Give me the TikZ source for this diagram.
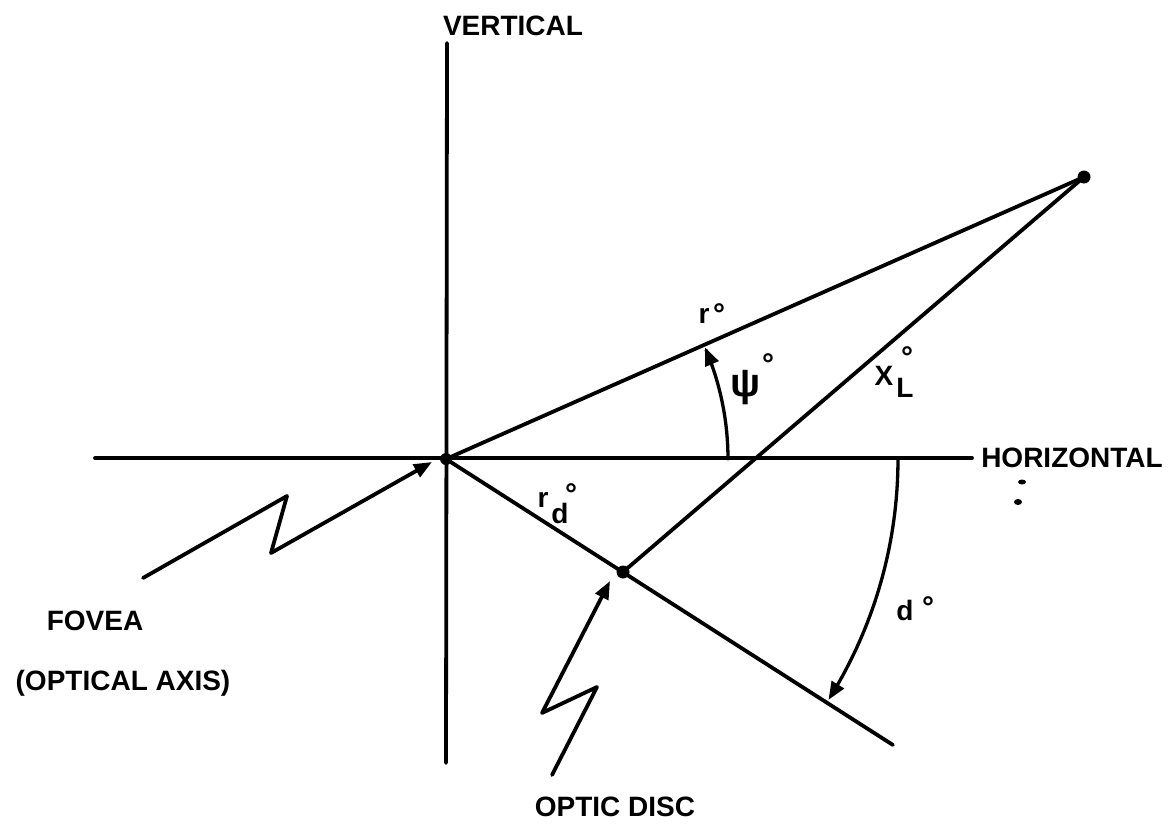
\documentclass[tikz,border=0pt]{standalone}
\usepackage{fontspec}
\setmainfont{Liberation Sans}
\usetikzlibrary{arrows.meta}
\begin{document}
\begin{tikzpicture}[x=1pt,y=-1pt, line cap=round, line join=round,
  ln/.style={line width=3.8pt},
  arcln/.style={line width=3.3pt},
  arr/.style={-{Triangle[length=18pt,width=14pt]}},
  lbl/.style={font=\fontsize{28pt}{30pt}\selectfont\bfseries, inner sep=0pt, anchor=base},
  deg/.style={font=\fontsize{30pt}{30pt}\selectfont\bfseries, inner sep=0pt, anchor=base},
  dot/.style={circle, fill, inner sep=0pt, minimum size=#1}]
\useasboundingbox (0,0) rectangle (1171,825);
% axes
\coordinate (vt) at (447,43);
\coordinate (vb) at (446,763);
\coordinate (hl) at (95,458);
\coordinate (hr) at (972,458);
\node[dot=12pt] (O) at (446,459) {};
\node[dot=13pt] (D) at (623,572) {};
\node[dot=13pt] (P) at (1084,177) {};
\coordinate (E) at (893,745);
\draw[ln] (vt) -- (vb);
\draw[ln] (hl) -- (hr);
\draw[ln] (O.center) -- (P.center);
\draw[ln] (O.center) -- (E);
\draw[ln] (D.center) -- (P.center);
% fovea zigzag arrow
\coordinate (f0) at (143,578);
\coordinate (f1) at (287,496);
\coordinate (f2) at (271,553);
\coordinate (f3) at (432,462);
\draw[ln,arr] (f0) -- (f1) -- (f2) -- (f3);
% optic disc zigzag arrow
\coordinate (o0) at (552,775);
\coordinate (o1) at (597,687);
\coordinate (o2) at (542,713);
\coordinate (o3) at (610,581);
\draw[ln,arr] (o0) -- (o1) -- (o2) -- (o3);
% angle arcs
\draw[arcln,arr] plot[domain=0:23.3, samples=40] ({446+282*cos(\x)},{459-282*sin(\x)});
\draw[arcln,arr] plot[domain=0:32.2, samples=50] ({446+452*cos(\x)},{459+452*sin(\x)});
% labels
\node[lbl] (tv) at (513,35) {VERTICAL};
\node[lbl] (th) at (1072,467) {HORIZONTAL};
\node[lbl] (tf) at (95,630) {FOVEA};
\node[lbl] (ta) at (123,690) {(OPTICAL AXIS)};
\node[lbl] (to) at (615,816) {OPTIC DISC};
% math labels
\node[lbl] (r) at (704,323) {r};
\node[deg] (rdeg) at (719,324) {°};
\node[font=\fontsize{40pt}{40pt}\selectfont\bfseries, inner sep=0pt] (psi) at (746,388) {ψ};
\node[deg] (psideg) at (768,374) {°};
\node[lbl] (X) at (884,385) {X};
\node[lbl] (XL) at (905,397) {L};
\node[deg] (Xdeg) at (907,367) {°};
\node[lbl] (rd) at (543,507) {r};
\node[lbl] (rdd) at (560,523) {d};
\node[deg] (rddeg) at (571,504) {°};
\node[lbl] (dd) at (905,620) {d};
\node[deg] (dddeg) at (928,617) {°};
% specks
\fill (1022,482) ellipse (4pt and 2.5pt);
\fill (1018,502) ellipse (4pt and 3pt);
\end{tikzpicture}
\end{document}
